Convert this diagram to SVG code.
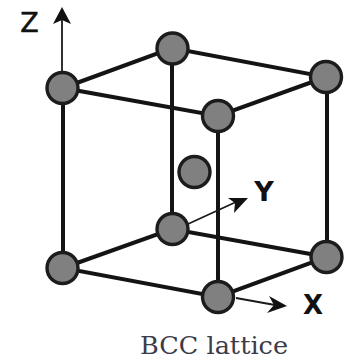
<svg xmlns="http://www.w3.org/2000/svg" width="349" height="361" viewBox="0 0 349 361">
<defs>
<style>
.edge{stroke:#141414;stroke-width:4;fill:none}
.axis{stroke:#1a1a1a;stroke-width:1.8;fill:none}
.head{fill:#111}
.atom{fill:#808080;stroke:#1c1c1c;stroke-width:3.4}
.lbl{font-family:"DejaVu Sans",sans-serif;fill:#111}
</style>
</defs>
<rect width="349" height="361" fill="#fff"/>
<g id="connectors">
<path class="edge" d="M63 88L172 48L326 77L218 116L63 88Z"/>
<path class="edge" d="M63 268L172 229L327 257L218 297L63 268Z"/>
<path class="edge" d="M63 88V268M172 48V229M218 116V297M327 77V257"/>
<path class="axis" d="M62 75V18"/>
<polygon class="head" points="62,7 71,24 62,20 53,24"/>
<path class="axis" d="M188 224L236 202"/>
<polygon class="head" points="248,198 234,213 235,203 228,198"/>
<path class="axis" d="M236 298L275 305"/>
<polygon class="head" points="287,306 267,313 274,305 269,296"/>
</g>
<g id="atom-top-back"><circle class="atom" cx="172.500" cy="48.500" r="15.500"/></g>
<g id="atom-top-left"><circle class="atom" cx="62.500" cy="88" r="15.500"/></g>
<g id="atom-top-right"><circle class="atom" cx="326" cy="77" r="15.500"/></g>
<g id="atom-top-front"><circle class="atom" cx="218" cy="116" r="15.500"/></g>
<g id="atom-center"><circle class="atom" cx="194.500" cy="172" r="15.500"/></g>
<g id="atom-bottom-back"><circle class="atom" cx="172.500" cy="229" r="15.500"/></g>
<g id="atom-bottom-left"><circle class="atom" cx="62.500" cy="268" r="15.500"/></g>
<g id="atom-bottom-right"><circle class="atom" cx="326.500" cy="257" r="15.500"/></g>
<g id="atom-bottom-front"><circle class="atom" cx="218" cy="297" r="15.500"/></g>
<g id="labels">
<text class="lbl" x="29.500" y="32" font-size="27" text-anchor="middle" stroke="#111" stroke-width=".5">Z</text>
<text class="lbl" x="264" y="201" font-size="27" font-weight="bold" text-anchor="middle">Y</text>
<text class="lbl" x="313" y="314" font-size="26" font-weight="bold" text-anchor="middle">X</text>
<text x="140" y="354" font-size="24" font-family="'DejaVu Serif','Liberation Serif',serif" fill="#3c3c48" textLength="148" lengthAdjust="spacingAndGlyphs">BCC lattice</text>
</g>
</svg>
